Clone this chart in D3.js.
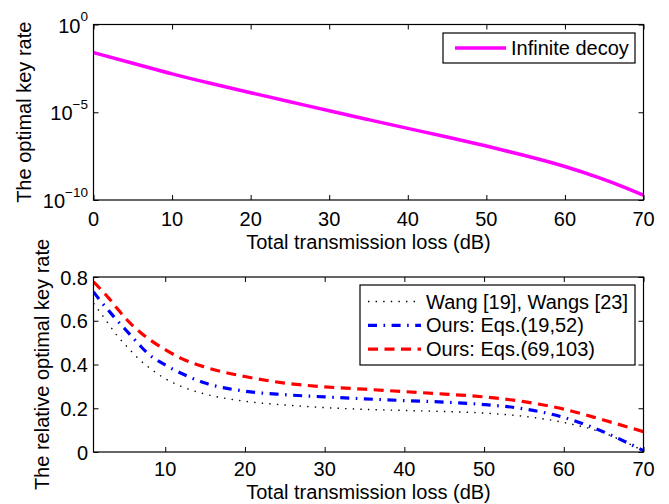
<!DOCTYPE html>
<html>
<head>
<meta charset="utf-8">
<script src="https://cdn.jsdelivr.net/npm/d3@7/dist/d3.min.js"></script>
<style>
  html, body { margin: 0; padding: 0; background: #fff; }
  svg { display: block; }
  text { font-family: "Liberation Sans", Arial, Helvetica, sans-serif; fill: #000; }
</style>
</head>
<body>
<svg id="chart" width="669" height="504"></svg>
<script>
// ---- Data ----------------------------------------------------------------
// Upper panel: optimal key rate with infinite decoy states vs. total loss
const lossTop = [0, 5, 10, 15, 20, 25, 30, 35, 40, 45, 50, 55, 60, 65, 67.5, 70];
const rateInfinite = [2.5e-2, 6.3e-3, 1.5e-3, 4.3e-4, 1.3e-4, 4.0e-5, 1.2e-5, 3.8e-6,
                      1.2e-6, 3.9e-7, 1.2e-7, 3.4e-8, 8.7e-9, 1.5e-9, 5.5e-10, 1.9e-10];

// Lower panel: relative optimal key rate for three methods
const lossBottom = [1, 2, 3, 4, 5, 6, 7, 8, 10, 12, 15, 20, 25, 30, 35, 40, 45, 50, 55, 60, 65, 70];
const relWang  = [0.68, 0.63, 0.58, 0.53, 0.49, 0.45, 0.415, 0.385, 0.335, 0.30, 0.265, 0.232,
                  0.215, 0.203, 0.195, 0.19, 0.185, 0.178, 0.163, 0.135, 0.087, 0.005];
const relOursA = [0.732, 0.685, 0.642, 0.60, 0.56, 0.52, 0.48, 0.445, 0.398, 0.36, 0.315, 0.278,
                  0.262, 0.252, 0.243, 0.235, 0.228, 0.217, 0.197, 0.158, 0.092, 0.006];
const relOursB = [0.778, 0.74, 0.70, 0.655, 0.612, 0.575, 0.543, 0.515, 0.468, 0.428, 0.388, 0.345,
                  0.315, 0.298, 0.287, 0.276, 0.265, 0.252, 0.23, 0.196, 0.146, 0.093];

const seriesNames = ["Wang [19], Wangs [23]", "Ours: Eqs.(19,52)", "Ours: Eqs.(69,103)"];
const topLegendName = "Infinite decoy";

// Tick values
const xTicksTop = [0, 10, 20, 30, 40, 50, 60, 70];
const xTicksBottom = [10, 20, 30, 40, 50, 60, 70];
const yExpTop = [0, -5, -10];
const yTicksBottom = [0, 0.2, 0.4, 0.6, 0.8];

const xTitle = "Total transmission loss (dB)";
const yTitleTop = "The optimal key rate";
const yTitleBottom = "The relative optimal key rate";

// ---- Layout --------------------------------------------------------------
const svg = d3.select("#chart");
const FS = 20;          // main font size
const TICK = 5;         // inward tick length

const topBox = { left: 93.5, right: 643.5, top: 24.5, bottom: 200 };
const botBox = { left: 93.5, right: 643.5, top: 277, bottom: 452 };

const xTop = d3.scaleLinear().domain([0, 70]).range([topBox.left, topBox.right]);
const yTop = d3.scaleLog().domain([1e-10, 1]).range([topBox.bottom, topBox.top]);
const xBot = d3.scaleLinear().domain([1, 70]).range([botBox.left, botBox.right]);
const yBot = d3.scaleLinear().domain([0, 0.8]).range([botBox.bottom, botBox.top]);

// Frame with inward ticks on all four sides (no labels from the axis itself)
function frame(box, xs, ys, xt, yt) {
  const g = svg.append("g");
  const w = box.right - box.left, h = box.bottom - box.top;
  g.append("g").attr("transform", `translate(0,${box.bottom})`)
    .call(d3.axisBottom(xs).tickValues(xt).tickSizeInner(-TICK).tickSizeOuter(0).tickFormat(""));
  g.append("g").attr("transform", `translate(0,${box.top})`)
    .call(d3.axisTop(xs).tickValues(xt).tickSizeInner(-TICK).tickSizeOuter(0).tickFormat(""));
  g.append("g").attr("transform", `translate(${box.left},0)`)
    .call(d3.axisLeft(ys).tickValues(yt).tickSizeInner(-TICK).tickSizeOuter(0).tickFormat(""));
  g.append("g").attr("transform", `translate(${box.right},0)`)
    .call(d3.axisRight(ys).tickValues(yt).tickSizeInner(-TICK).tickSizeOuter(0).tickFormat(""));
  g.selectAll(".domain").remove();
  g.selectAll(".tick line").attr("stroke", "#000").attr("stroke-width", 1);
  g.append("rect").attr("x", box.left).attr("y", box.top).attr("width", w).attr("height", h)
    .attr("fill", "none").attr("stroke", "#000").attr("stroke-width", 1.2);
  return g;
}

// ---- Upper panel ---------------------------------------------------------
const topPts = lossTop.map((d, i) => [d, rateInfinite[i]]);
svg.append("path")
  .datum(topPts)
  .attr("fill", "none")
  .attr("stroke", "#ff00ff")
  .attr("stroke-width", 3.5)
  .attr("d", d3.line().x(d => xTop(d[0])).y(d => yTop(d[1])).curve(d3.curveBasis));

frame(topBox, xTop, yTop, xTicksTop, yExpTop.map(e => Math.pow(10, e)));

// x tick labels
svg.append("g").selectAll("text").data(xTicksTop).join("text")
  .attr("x", d => xTop(d)).attr("y", 225.5)
  .attr("text-anchor", "middle").attr("font-size", FS)
  .text(d => d);

// y tick labels as powers of ten
const yl = svg.append("g").selectAll("text").data(yExpTop).join("text")
  .attr("text-anchor", "end")
  .attr("x", 88)
  .attr("y", d => yTop(Math.pow(10, d)) + 8)
  .attr("font-size", FS);
yl.append("tspan").text("10");
yl.append("tspan").attr("font-size", 13.5).attr("dy", -11.5)
  .text(d => d === 0 ? "0" : "\u2212" + Math.abs(d));

svg.append("text").attr("x", (topBox.left + topBox.right) / 2).attr("y", 249)
  .attr("text-anchor", "middle").attr("font-size", FS).text(xTitle);
svg.append("text")
  .attr("transform", `translate(30.5,${(topBox.top + topBox.bottom) / 2}) rotate(-90)`)
  .attr("text-anchor", "middle").attr("font-size", FS).text(yTitleTop);

// legend (upper)
const lg1 = svg.append("g");
lg1.append("rect").attr("x", 443).attr("y", 33).attr("width", 192).attr("height", 30)
  .attr("fill", "#fff").attr("stroke", "#000").attr("stroke-width", 1.2);
lg1.append("line").attr("x1", 455).attr("x2", 506).attr("y1", 48).attr("y2", 48)
  .attr("stroke", "#ff00ff").attr("stroke-width", 3.5);
lg1.append("text").attr("x", 511).attr("y", 55).attr("font-size", FS).text(topLegendName);

// ---- Lower panel ---------------------------------------------------------
const styles = [
  { color: "#000", width: 1.4, dash: "1.4,6.2" },
  { color: "#0000ff", width: 3.2, dash: "9,6.5,1.6,6.5" },
  { color: "#ff0000", width: 3.2, dash: "10,6.5" }
];
const botSeries = [relWang, relOursA, relOursB];

svg.append("clipPath").attr("id", "botclip").append("rect")
  .attr("x", botBox.left).attr("y", botBox.top - 3)
  .attr("width", botBox.right - botBox.left + 2).attr("height", botBox.bottom - botBox.top + 4);

const lineBot = d3.line().x(d => xBot(d[0])).y(d => yBot(d[1])).curve(d3.curveMonotoneX);
botSeries.forEach((vals, i) => {
  svg.append("path")
    .datum(lossBottom.map((d, j) => [d, vals[j]]))
    .attr("clip-path", "url(#botclip)")
    .attr("fill", "none")
    .attr("stroke", styles[i].color)
    .attr("stroke-width", styles[i].width)
    .attr("stroke-dasharray", styles[i].dash)
    .attr("d", lineBot);
});

frame(botBox, xBot, yBot, xTicksBottom, yTicksBottom);

svg.append("g").selectAll("text").data(xTicksBottom).join("text")
  .attr("x", d => xBot(d)).attr("y", 476)
  .attr("text-anchor", "middle").attr("font-size", FS)
  .text(d => d);
svg.append("g").selectAll("text").data(yTicksBottom).join("text")
  .attr("x", 88).attr("y", d => yBot(d) + 7.5)
  .attr("text-anchor", "end").attr("font-size", FS)
  .text(d => d === 0 ? "0" : d3.format(".1f")(d));

svg.append("text").attr("x", (botBox.left + botBox.right) / 2).attr("y", 499)
  .attr("text-anchor", "middle").attr("font-size", FS).text(xTitle);
svg.append("text")
  .attr("transform", `translate(48.5,${(botBox.top + botBox.bottom) / 2}) rotate(-90)`)
  .attr("text-anchor", "middle").attr("font-size", FS).text(yTitleBottom);

// legend (lower)
const lg2 = svg.append("g");
lg2.append("rect").attr("x", 360).attr("y", 285).attr("width", 275).attr("height", 80)
  .attr("fill", "#fff").attr("stroke", "#000").attr("stroke-width", 1.2);
seriesNames.forEach((name, i) => {
  const cy = 301.5 + i * 23.8;
  lg2.append("line").attr("x1", 368).attr("x2", 421).attr("y1", cy).attr("y2", cy)
    .attr("stroke", styles[i].color).attr("stroke-width", styles[i].width)
    .attr("stroke-dasharray", styles[i].dash);
  lg2.append("text").attr("x", 426).attr("y", cy + 7).attr("font-size", FS).text(name);
});
</script>
</body>
</html>
